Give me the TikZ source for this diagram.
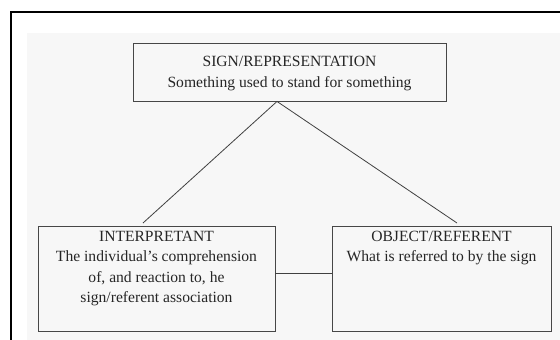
\documentclass[tikz,border=0pt]{standalone}
\usepackage{fontspec}
\setmainfont{Liberation Serif}
\begin{document}
\begin{tikzpicture}[x=1pt,y=-1pt,line width=.9pt,
  box/.style={draw=black!72,inner sep=0pt},
  txt/.style={anchor=north,align=center,inner sep=0pt,text=black!85,
    font=\fontsize{15.6}{20.5}\selectfont},
  link/.style={draw=black!75,line width=.8pt}]
  \useasboundingbox (0,0) rectangle (560,340);
  \fill[black!3] (27,33) rectangle (560,340);
  \draw[line width=1.6pt] (560,12)--(10.7,12)--(10.7,340);
  \node[box,minimum width=313,minimum height=58] (sign) at (289.5,72) {};
  \node[box,minimum width=237,minimum height=105] (interp) at (156.5,278.5) {};
  \node[box,minimum width=219,minimum height=105] (obj) at (441.5,278.5) {};
  \node[txt] (signtxt) at ([yshift=-13.5]sign.north)
    {SIGN/REPRESENTATION\\Something used to stand for something};
  \node[txt] (interptxt) at ([yshift=-5]interp.north)
    {INTERPRETANT\\The individual's comprehension\\of, and reaction to, he\\sign/referent association};
  \node[txt] (objtxt) at ([yshift=-5]obj.north)
    {OBJECT/REFERENT\\What is referred to by the sign};
  \coordinate (apex) at ([xshift=-12.5]sign.south);
  \coordinate (l) at (143,223);
  \coordinate (r) at (457,223);
  \draw[link] (l)--(apex)--(r);
  \draw[link] ([yshift=5.5]interp.east)--([yshift=5.5]obj.west);
\end{tikzpicture}
\end{document}
